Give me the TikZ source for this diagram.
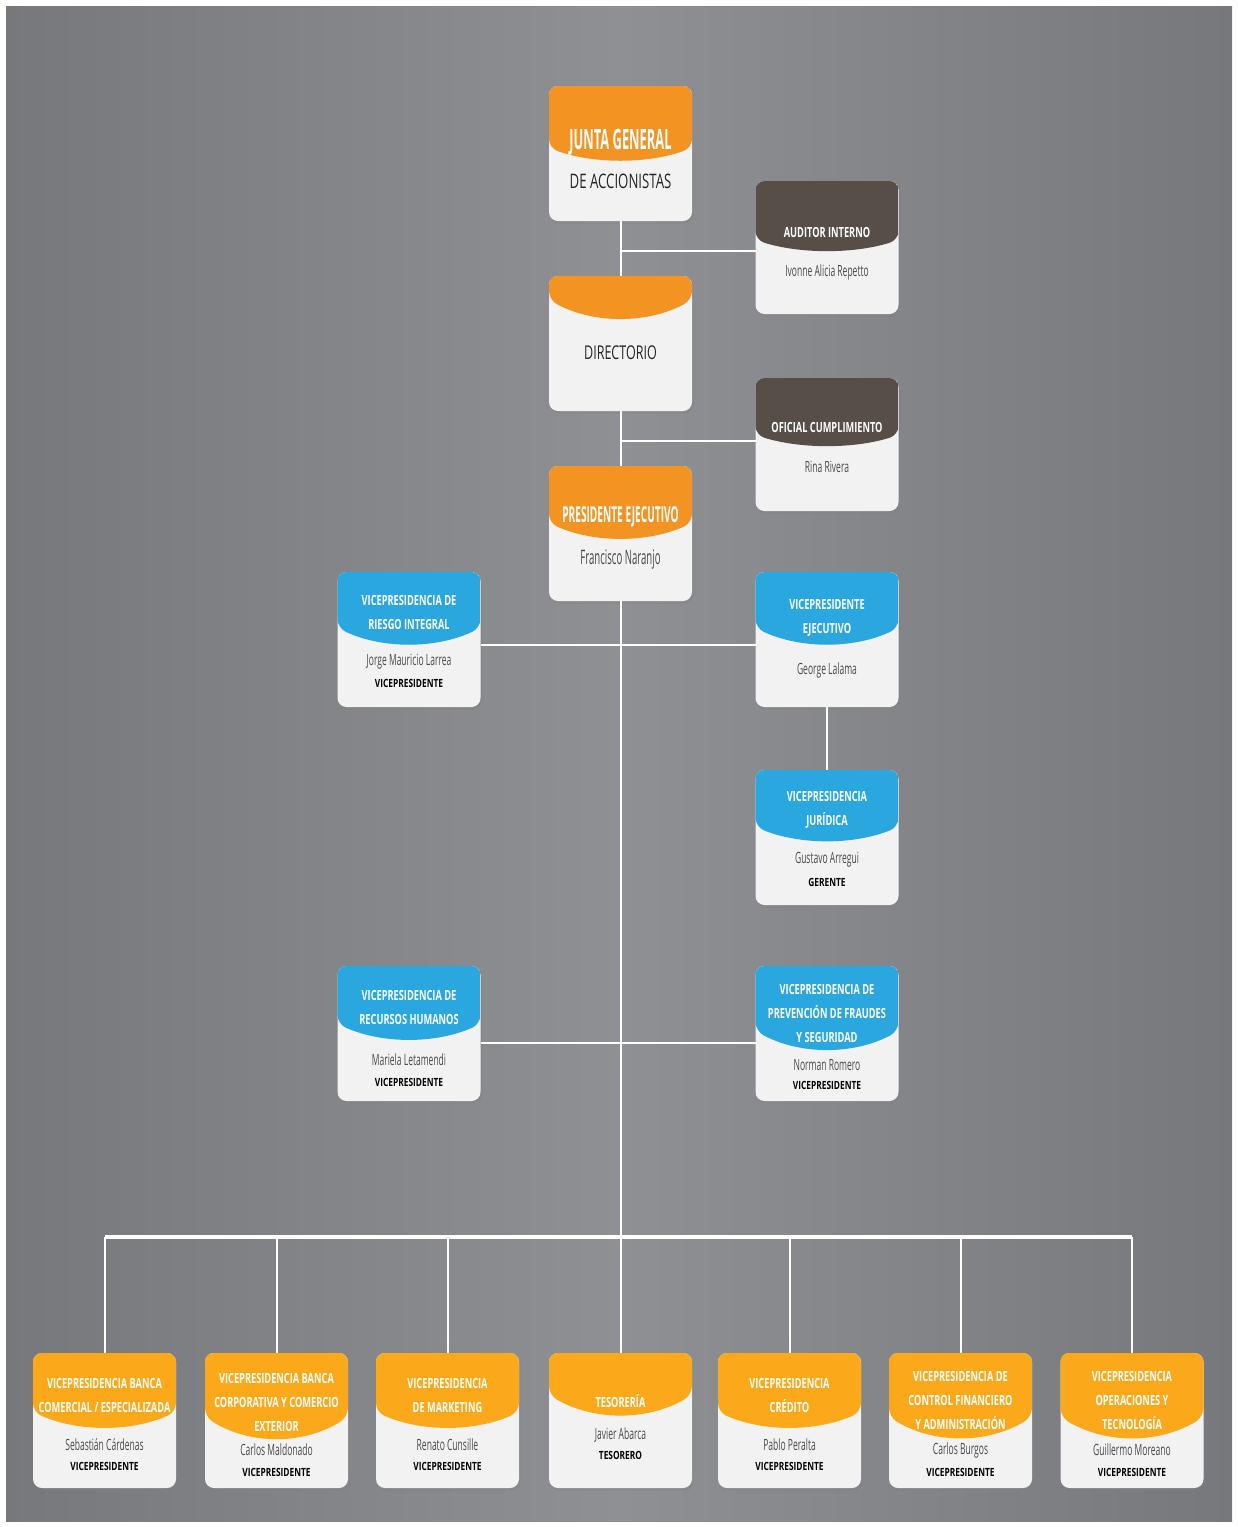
\documentclass[tikz,border=0pt]{standalone}
\usepackage{fontspec}
\setmainfont{Open Sans}
\newfontfamily\hfont[FakeStretch=0.66]{Open Sans}
\newfontfamily\nfont[FakeStretch=0.55]{Open Sans}
\newfontfamily\pnfont[FakeStretch=0.48]{Open Sans}
\newfontfamily\tfont[FakeStretch=0.74]{Open Sans}
\newfontfamily\bigfont[FakeStretch=0.46]{Open Sans}
\newfontfamily\wfont[FakeStretch=0.66]{Open Sans}
\usetikzlibrary{calc,shadows}
\definecolor{bgdark}{HTML}{77787C}
\definecolor{bglight}{HTML}{8F9094}
\definecolor{orgA}{HTML}{F39322}
\definecolor{orgB}{HTML}{FBA91B}
\definecolor{blueC}{HTML}{2BA7DF}
\definecolor{brownD}{HTML}{564E47}
\definecolor{cardw}{HTML}{F2F2F2}
\definecolor{nametxt}{HTML}{4A4A4A}
\begin{document}
\begin{tikzpicture}[x=1pt,y=-1pt,
  card/.style={rectangle, rounded corners=9pt, minimum width=143pt, minimum height=135pt,
    inner sep=0pt, outer sep=0pt, fill=cardw,
    drop shadow={shadow xshift=1.5pt, shadow yshift=-2.5pt, opacity=0.35}},
  hdr/.style n args={3}{path picture={\fill[#1] (path picture bounding box.north west)
    -- ([yshift=-#2pt]path picture bounding box.north west)
    .. controls +(45pt,-#3pt) and +(-45pt,-#3pt) ..
    ([yshift=-#2pt]path picture bounding box.north east)
    -- (path picture bounding box.north east) -- cycle;}},
  htext/.style={text=white, font=\hfont\bfseries\fontsize{14}{24}\selectfont, align=center, inner sep=0pt},
  ntext/.style={text=nametxt, font=\nfont\fontsize{15.5}{18}\selectfont, align=center, inner sep=0pt},
  ttext/.style={text=black, font=\tfont\bfseries\fontsize{11.3}{13}\selectfont, align=center, inner sep=0pt},
  conn/.style={draw=white, line width=2pt},
  busline/.style={draw=white, line width=4pt}]
\useasboundingbox (0,0) rectangle (1238,1527);
\fill[white] (0,0) rectangle (1238,1527);
\shade[left color=bgdark, right color=bgdark, middle color=bglight] (6,6) rectangle (1232,1521);

% top column
\node[card, hdr={orgA}{62}{16}] (J) at (620.5,153.5) {};
\node[text=white, font=\bigfont\bfseries\fontsize{28}{30}\selectfont, inner sep=0pt] (Jh) at ($(J.north)+(0,56)$) {JUNTA GENERAL};
\node[text=black!85, font=\wfont\fontsize{20}{22}\selectfont, inner sep=0pt] (Jn) at ($(J.north)+(0,95)$) {DE ACCIONISTAS};

\node[card, hdr={orgA}{24}{24}] (D) at (620.5,343.5) {};
\node[text=black!85, font=\wfont\fontsize{19}{21}\selectfont, inner sep=0pt] (Dn) at ($(D.north)+(0,77)$) {DIRECTORIO};

\node[card, hdr={orgA}{57}{20}] (P) at (620.5,533.5) {};
\node[text=white, font=\bigfont\bfseries\fontsize{22}{24}\selectfont, inner sep=0pt] (Ph) at ($(P.north)+(0,51)$) {PRESIDENTE EJECUTIVO};
\node[ntext, font=\pnfont\fontsize{20}{22}\selectfont] (Pn) at ($(P.north)+(0,94)$) {Francisco Naranjo};

\node[card, minimum height=133pt, hdr={brownD}{59}{14}] (A) at (827,247.5) {};
\node[htext] (Ah) at ($(A.north)+(0,51)$) {AUDITOR INTERNO};
\node[ntext] (An) at ($(A.north)+(0,91)$) {Ivonne Alicia Repetto};

\node[card, minimum height=133pt, hdr={brownD}{57}{14}] (O) at (827,444.5) {};
\node[htext] (Oh) at ($(O.north)+(0,49)$) {OFICIAL CUMPLIMIENTO};
\node[ntext] (On) at ($(O.north)+(0,89)$) {Rina Rivera};

% blue cards
\node[card, hdr={blueC}{56}{21}] (R) at (409,639.5) {};
\node[htext] (Rh) at ($(R.north)+(0,40.5)$) {VICEPRESIDENCIA DE\\RIESGO INTEGRAL};
\node[ntext] (Rn) at ($(R.north)+(0,90)$) {Jorge Mauricio Larrea};
\node[ttext] (Rt) at ($(R.north)+(0,111)$) {VICEPRESIDENTE};

\node[card, hdr={blueC}{56}{21}] (VE) at (827,639.5) {};
\node[htext] (VEh) at ($(VE.north)+(0,46)$) {VICEPRESIDENTE\\EJECUTIVO};
\node[ntext] (VEn) at ($(VE.north)+(0,98)$) {George Lalama};

\node[card, hdr={blueC}{57}{18}] (JU) at (827,837.5) {};
\node[htext] (JUh) at ($(JU.north)+(0,40)$) {VICEPRESIDENCIA\\JURÍDICA};
\node[ntext] (JUn) at ($(JU.north)+(0,90)$) {Gustavo Arregui};
\node[ttext] (JUt) at ($(JU.north)+(0,112)$) {GERENTE};

\node[card, hdr={blueC}{58}{20}] (RH) at (409,1033.5) {};
\node[htext] (RHh) at ($(RH.north)+(0,41.5)$) {VICEPRESIDENCIA DE\\RECURSOS HUMANOS};
\node[ntext] (RHn) at ($(RH.north)+(0,94)$) {Mariela Letamendi};
\node[ttext] (RHt) at ($(RH.north)+(0,116)$) {VICEPRESIDENTE};

\node[card, hdr={blueC}{65}{24}] (PF) at (827,1033.5) {};
\node[htext] (PFh) at ($(PF.north)+(0,47)$) {VICEPRESIDENCIA DE\\PREVENCIÓN DE FRAUDES\\Y SEGURIDAD};
\node[ntext] (PFn) at ($(PF.north)+(0,99)$) {Norman Romero};
\node[ttext] (PFt) at ($(PF.north)+(0,119)$) {VICEPRESIDENTE};

% bottom row
\node[card, hdr={orgB}{59}{20}] (B1) at (104.5,1420.5) {};
\node[htext] (B1h) at ($(B1.north)+(0,42)$) {VICEPRESIDENCIA BANCA\\COMERCIAL / ESPECIALIZADA};
\node[ntext] (B1n) at ($(B1.north)+(0,92)$) {Sebastián Cárdenas};
\node[ttext] (B1t) at ($(B1.north)+(0,113)$) {VICEPRESIDENTE};

\node[card, hdr={orgB}{64}{28}] (B2) at (276.5,1420.5) {};
\node[htext] (B2h) at ($(B2.north)+(0,49)$) {VICEPRESIDENCIA BANCA\\CORPORATIVA Y COMERCIO\\EXTERIOR};
\node[ntext] (B2n) at ($(B2.north)+(0,97)$) {Carlos Maldonado};
\node[ttext] (B2t) at ($(B2.north)+(0,119)$) {VICEPRESIDENTE};

\node[card, hdr={orgB}{59}{20}] (B3) at (447.5,1420.5) {};
\node[htext] (B3h) at ($(B3.north)+(0,42)$) {VICEPRESIDENCIA\\DE MARKETING};
\node[ntext] (B3n) at ($(B3.north)+(0,92)$) {Renato Cunsille};
\node[ttext] (B3t) at ($(B3.north)+(0,113)$) {VICEPRESIDENTE};

\node[card, hdr={orgB}{42}{26}] (B4) at (620.5,1420.5) {};
\node[htext] (B4h) at ($(B4.north)+(0,48)$) {TESORERÍA};
\node[ntext] (B4n) at ($(B4.north)+(0,82)$) {Javier Abarca};
\node[ttext] (B4t) at ($(B4.north)+(0,102)$) {TESORERO};

\node[card, hdr={orgB}{59}{20}] (B5) at (789.5,1420.5) {};
\node[htext] (B5h) at ($(B5.north)+(0,42)$) {VICEPRESIDENCIA\\CRÉDITO};
\node[ntext] (B5n) at ($(B5.north)+(0,92)$) {Pablo Peralta};
\node[ttext] (B5t) at ($(B5.north)+(0,113)$) {VICEPRESIDENTE};

\node[card, hdr={orgB}{64}{27}] (B6) at (960.5,1420.5) {};
\node[htext] (B6h) at ($(B6.north)+(0,47.5)$) {VICEPRESIDENCIA DE\\CONTROL FINANCIERO\\Y ADMINISTRACIÓN};
\node[ntext] (B6n) at ($(B6.north)+(0,97)$) {Carlos Burgos};
\node[ttext] (B6t) at ($(B6.north)+(0,119)$) {VICEPRESIDENTE};

\node[card, hdr={orgB}{64}{27}] (B7) at (1132,1420.5) {};
\node[htext] (B7h) at ($(B7.north)+(0,47.5)$) {VICEPRESIDENCIA\\OPERACIONES Y\\TECNOLOGÍA};
\node[ntext] (B7n) at ($(B7.north)+(0,97)$) {Guillermo Moreano};
\node[ttext] (B7t) at ($(B7.north)+(0,119)$) {VICEPRESIDENTE};

% connectors
\coordinate (bus) at (620.5,1237);
\draw[conn] (J.south) -- (D.north);
\draw[conn] (D.south) -- (P.north);
\draw[conn] ([yshift=-3.5pt]A.west) -- ([yshift=-3.5pt]A.west -| J.south);
\draw[conn] ([yshift=3.5pt]O.west) -- ([yshift=3.5pt]O.west -| D.south);
\draw[conn] ([yshift=-5.5pt]R.east) -- ([yshift=-5.5pt]VE.west);
\draw[conn] (VE.south) -- (JU.north);
\draw[conn] ([yshift=-9.5pt]RH.east) -- ([yshift=-9.5pt]PF.west);
\draw[conn] (P.south) -- (bus);
\draw[busline] (B1.north |- bus) -- (B7.north |- bus);
\foreach \b in {B1,B2,B3,B4,B5,B6,B7} {\draw[conn] (\b.north) -- (\b.north |- bus);}
\end{tikzpicture}
\end{document}
